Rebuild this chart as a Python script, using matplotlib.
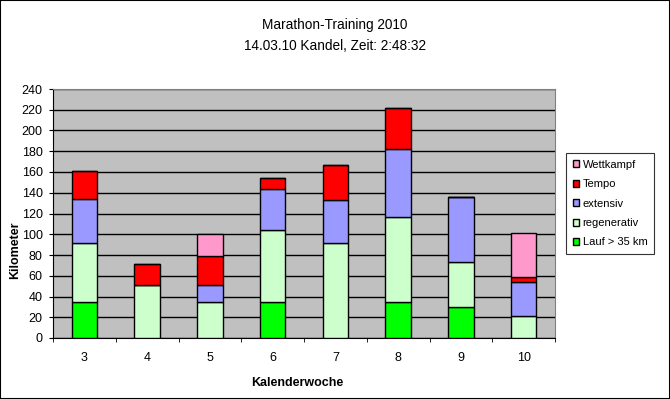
import matplotlib.pyplot as plt
import numpy as np
from matplotlib.patches import Rectangle

plt.rcParams['font.family'] = ['Liberation Sans', 'DejaVu Sans']

weeks = ["3", "4", "5", "6", "7", "8", "9", "10"]
lauf = [35, 0, 0, 35, 0, 35, 30, 0]
regenerativ = [57, 51, 35, 69, 92, 82, 43, 21]
extensiv = [42, 0, 16, 40, 41, 65, 63, 33]
tempo = [27, 20, 28, 10, 34, 40, 0, 5]
wettkampf = [0, 0, 21, 0, 0, 0, 0, 42]

series = [
    ("Lauf > 35 km", lauf, "#00FF00"),
    ("regenerativ", regenerativ, "#CCFFCC"),
    ("extensiv", extensiv, "#9999FF"),
    ("Tempo", tempo, "#FF0000"),
    ("Wettkampf", wettkampf, "#FF99CC"),
]

fig = plt.figure(figsize=(6.7, 3.99), dpi=100)
ax = fig.add_axes([53 / 670, 61 / 399, 502 / 670, 249 / 399])
ax.set_facecolor("#C0C0C0")

x = np.arange(len(weeks))
bottom = np.zeros(len(weeks))
handles = []
for name, vals, col in series:
    b = ax.bar(x, vals, width=0.41, bottom=bottom, color=col,
               edgecolor="black", linewidth=1.0, label=name, zorder=3)
    handles.append(b)
    bottom += np.array(vals)

ax.set_xlim(-0.5, len(weeks) - 0.5)
ax.set_ylim(0, 240)
ax.set_yticks(np.arange(0, 241, 20))
ax.yaxis.grid(True, color="black", linewidth=1.0, zorder=1)
ax.set_axisbelow(True)
ax.set_xticks(x)
ax.set_xticklabels(weeks, fontsize=9)
ax.set_xticks(np.arange(-0.5, len(weeks)), minor=True)
ax.tick_params(axis="x", which="major", length=0, pad=10)
ax.tick_params(axis="x", which="minor", length=3, color="black")
ax.tick_params(axis="y", length=3, labelsize=9, pad=4.5)
for s in ["top", "right"]:
    ax.spines[s].set_color("#808080")
for s in ["left", "bottom"]:
    ax.spines[s].set_color("black")

ax.set_ylabel("Kilometer", fontsize=9, fontweight="bold")
ax.yaxis.set_label_coords(-0.0757, 0.353)
ax.set_xlabel("Kalenderwoche", fontsize=9, fontweight="bold")
ax.xaxis.set_label_coords(0.486, -0.181)
ax.xaxis.label.set_va("center")
ax.yaxis.label.set_va("center")

fig.text(0.5, 1 - 25 / 399, "Marathon-Training 2010", ha="center", va="center", fontsize=9.8)
fig.text(0.5, 1 - 45.5 / 399, "14.03.10 Kandel, Zeit: 2:48:32", ha="center", va="center", fontsize=9.8)

leg = fig.legend(handles[::-1], [s[0] for s in series][::-1],
                 loc="upper left", bbox_to_anchor=(566 / 670, 1 - 153 / 399),
                 fontsize=8, frameon=True, fancybox=False, edgecolor="black",
                 handlelength=0.6, handleheight=0.6, handletextpad=0.3,
                 labelspacing=0.85, borderpad=0.6, borderaxespad=0)
leg.get_frame().set_linewidth(0.8)

fig.patches.append(Rectangle((0, 0), 1, 1, transform=fig.transFigure,
                             fill=False, edgecolor="black", linewidth=1.5))

fig.savefig("out.png", dpi=100)
